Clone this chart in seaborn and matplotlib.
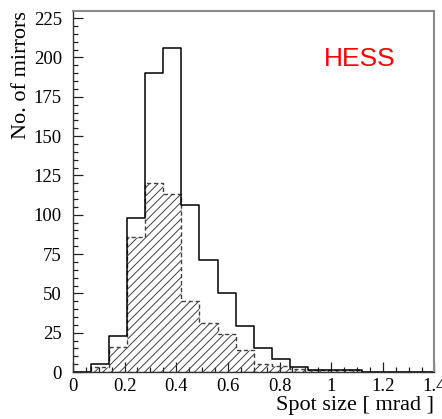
import numpy as np
import pandas as pd
import matplotlib
matplotlib.use("Agg")
import matplotlib.pyplot as plt
import seaborn as sns
from matplotlib.ticker import MultipleLocator, FuncFormatter

# Spot-size histogram: 20 bins of 0.07 mrad between 0 and 1.4 mrad
bin_width = 0.07
n_bins = 20

# Counts per bin for all mirrors (open histogram)
all_mirrors = [0, 5, 23, 98, 190, 206, 106, 71, 50, 29,
               15, 8, 3, 1, 1, 1, 0, 0, 0, 0]
# Counts per bin for the selected subset (hatched histogram)
subset_mirrors = [0, 3, 16, 86, 120, 113, 45, 31, 24, 14,
                  5, 4, 2, 1, 1, 1, 0, 0, 0, 0]

x_ticks_major = 0.2
y_ticks_major = 25

edges = (np.arange(n_bins + 1) * bin_width).tolist()
centers = [lo + bin_width / 2 for lo in edges[:-1]]
df = pd.DataFrame({"spot_size": centers,
                   "all": all_mirrors,
                   "subset": subset_mirrors})

sns.set_style("ticks")
plt.rcParams["font.family"] = ["Liberation Serif", "DejaVu Serif"]
plt.rcParams["text.color"] = "black"
plt.rcParams["axes.labelcolor"] = "black"
plt.rcParams["xtick.labelcolor"] = "black"
plt.rcParams["ytick.labelcolor"] = "black"
plt.rcParams["hatch.color"] = "#404040"
plt.rcParams["hatch.linewidth"] = 0.7

fig = plt.figure(figsize=(4.42, 4.19), dpi=100)
ax = fig.add_axes([0.165, 0.112, 0.818, 0.862])

sns.histplot(data=df, x="spot_size", weights="subset", bins=edges,
             element="step", fill=True, color="#404040", facecolor="none",
             edgecolor="#404040", hatch="////", linestyle=(0, (3, 2)),
             linewidth=1.0, ax=ax)
sns.histplot(data=df, x="spot_size", weights="all", bins=edges,
             element="step", fill=False, color="black",
             linewidth=1.1, ax=ax)

ax.set_xlim(0, 1.4)
ax.set_ylim(0, 229.6)

ax.xaxis.set_major_locator(MultipleLocator(x_ticks_major))
ax.xaxis.set_minor_locator(MultipleLocator(0.05))
ax.yaxis.set_major_locator(MultipleLocator(y_ticks_major))
ax.yaxis.set_minor_locator(MultipleLocator(5))
ax.xaxis.set_major_formatter(FuncFormatter(lambda v, p: f"{v:g}"))

ax.tick_params(axis="both", which="both", direction="in",
               top=False, right=False, color="#222222", width=0.9,
               labelsize=13.5, labelcolor="black")
ax.tick_params(axis="both", which="major", length=7)
ax.tick_params(axis="both", which="minor", length=3.6)
ax.tick_params(axis="x", which="major", pad=4)
ax.tick_params(axis="y", which="major", pad=8)

for side in ["top", "right"]:
    ax.spines[side].set_color("#8a8a8a")
    ax.spines[side].set_linewidth(1.5)
for side in ["left", "bottom"]:
    ax.spines[side].set_color("#333333")
    ax.spines[side].set_linewidth(1.0)

ax.set_xlabel("Spot size [ mrad ]", loc="right", fontsize=16, labelpad=1,
              color="black")
ax.set_ylabel("No. of mirrors", loc="top", fontsize=16, labelpad=2,
              color="black")

ax.text(1.11, 199, "HESS", color="red", ha="center", va="center",
        fontsize=19, family="Liberation Sans")

fig.savefig("out.png", dpi=100)
